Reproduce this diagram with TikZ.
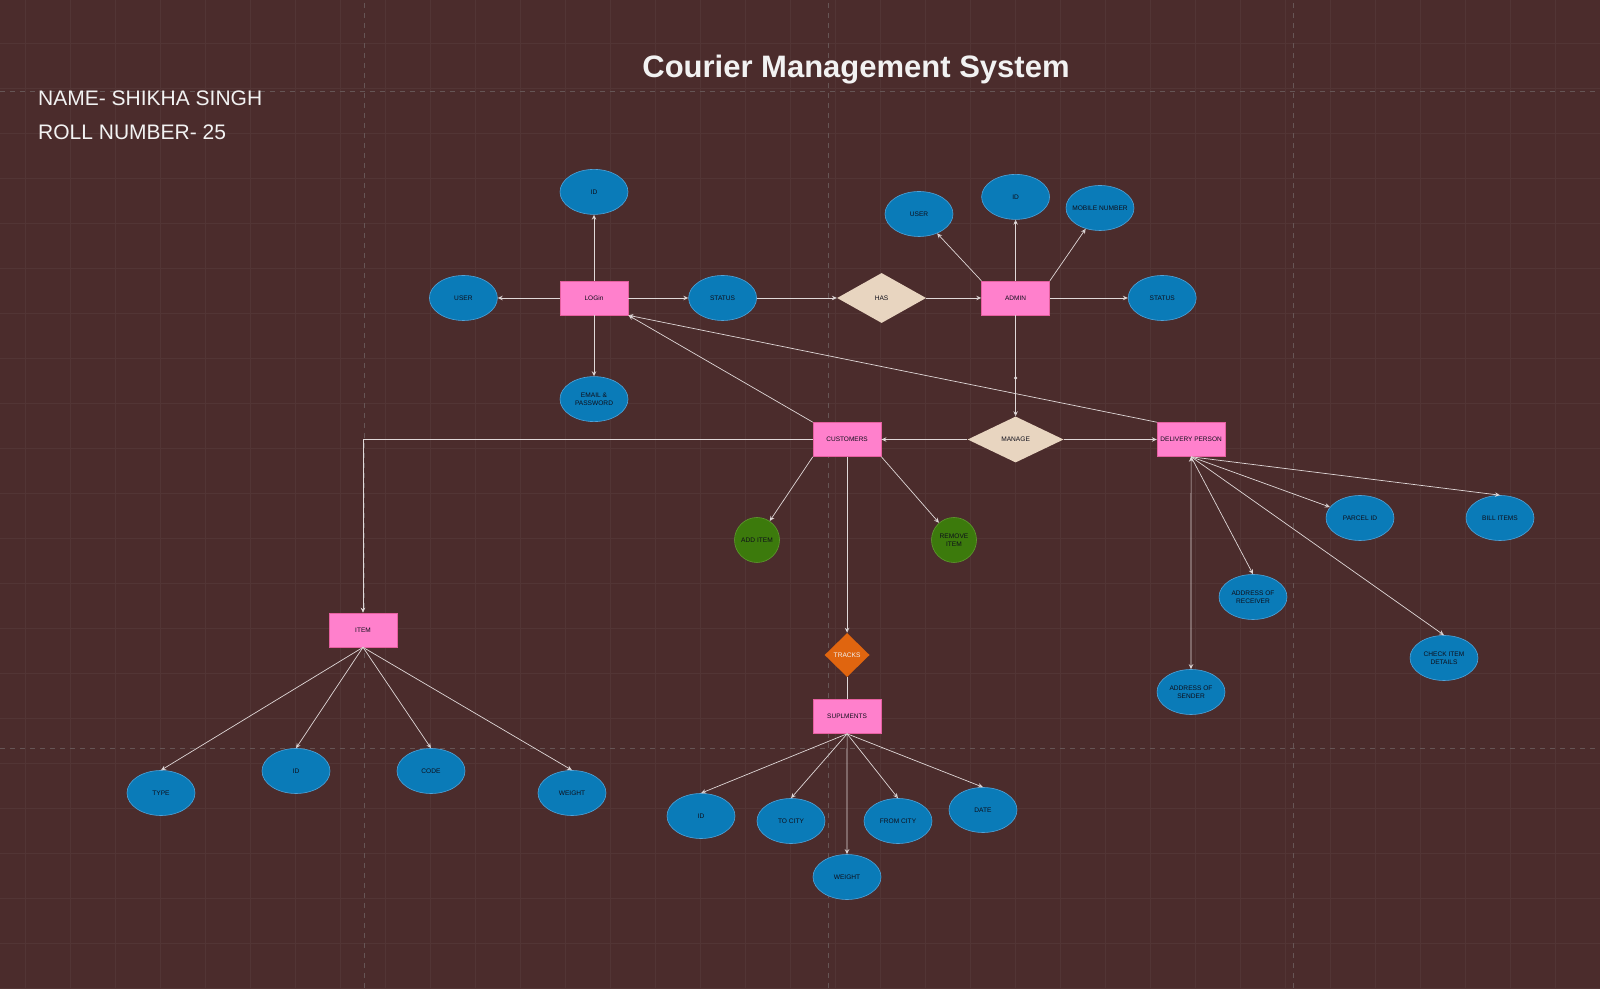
\documentclass[tikz,border=0pt]{standalone}
\usepackage{fontspec}
\setmainfont{Liberation Sans}
\usetikzlibrary{positioning,shapes.geometric,arrows.meta}
\definecolor{bgc}{HTML}{4B2C2C}
\definecolor{gridc}{HTML}{523535}
\definecolor{majc}{HTML}{665555}
\definecolor{attrfill}{HTML}{0A7BB8}
\definecolor{attrline}{HTML}{4FA3D9}
\definecolor{entfill}{HTML}{FF80CC}
\definecolor{entline}{HTML}{E4609F}
\definecolor{relfill}{HTML}{E8D5C0}
\definecolor{trackfill}{HTML}{E0650F}
\definecolor{actfill}{HTML}{3C7A0C}
\definecolor{actline}{HTML}{5E9A2E}
\definecolor{linkc}{HTML}{E0D8D8}
\definecolor{inkc}{HTML}{0E0E1A}
\definecolor{titlec}{HTML}{F2F2F2}

\begin{document}
\begin{tikzpicture}[x=1pt,y=1pt,
        attr/.style={ellipse,draw=attrline,fill=attrfill,line width=0.6pt,minimum width=68pt,minimum height=45pt,inner xsep=-8pt,inner ysep=0pt,align=center,font=\fontsize{6.6}{7.6}\selectfont,text=inkc},
        entity/.style={rectangle,draw=entline,fill=entfill,line width=0.6pt,minimum width=68pt,minimum height=34pt,inner sep=1pt,font=\fontsize{6.5}{7.5}\selectfont,text=inkc},
        rel/.style={diamond,fill=relfill,inner sep=0pt,font=\fontsize{6.6}{7.6}\selectfont,text=inkc},
        act/.style={circle,draw=actline,fill=actfill,line width=0.6pt,minimum size=45pt,inner sep=0pt,align=center,font=\fontsize{6.6}{7.6}\selectfont,text=inkc},
        link/.style={draw=linkc,line width=0.7pt,-{Stealth[length=5pt,width=4.5pt]}},
        waypt/.style={circle,fill=linkc,inner sep=0pt,minimum size=3.5pt}]
        \fill[bgc] (0,0) rectangle (1600,988);
        \useasboundingbox (0,0) rectangle (1600,988);
        \foreach \x in {25,70,...,1600} \draw[gridc,line width=0.6pt] (\x,0) -- (\x,988);
        \foreach \y in {0,45,...,945} \draw[gridc,line width=0.6pt] (0,\y) -- (1600,\y);
        \foreach \x in {364,828,1293} \draw[majc,line width=0.9pt,dash pattern=on 5pt off 5pt] (\x,0) -- (\x,988);
        \foreach \y in {897,240} \draw[majc,line width=0.9pt,dash pattern=on 5pt off 5pt] (0,\y) -- (1600,\y);

        \node[font=\bfseries\fontsize{31}{36}\selectfont,text=titlec] (title) at (856,918) {Courier Management System};
        \node[anchor=west,inner sep=0pt,font=\fontsize{21}{25}\selectfont,text=titlec] (name) at (38,890) {NAME- SHIKHA SINGH};
        \node[anchor=west,inner sep=0pt,font=\fontsize{21}{25}\selectfont,text=titlec] (roll) at (38,856) {ROLL NUMBER- 25};

        \node[entity] (login) at (594,690) {LOGin};
        \node[attr] (loginid) [above=66pt of login] {ID};
        \node[attr] (loginuser) [left=62pt of login] {USER};
        \node[attr] (loginstatus) [right=60pt of login] {STATUS};
        \node[attr] (email) [below=61pt of login] {EMAIL \&\\PASSWORD};
        \node[rel,minimum width=89pt,minimum height=50pt] (has) [right=80pt of loginstatus] {HAS};
        \node[entity] (admin) [right=55pt of has] {ADMIN};
        \node[attr] (adminid) [above=61pt of admin] {ID};
        \node[attr] (adminuser) at (919,774) {USER};
        \node[attr] (mobile) at (1100,780) {MOBILE NUMBER};
        \node[attr] (adminstatus) [right=78pt of admin] {STATUS};
        \node[rel,minimum width=96pt,minimum height=46pt] (manage) [below=101pt of admin] {MANAGE};
        \node[entity] (cust) [left=86pt of manage] {CUSTOMERS};
        \node[entity] (deliv) [right=93pt of manage] {DELIVERY PERSON};
        \node[act] (additem) at (757,448) {ADD ITEM};
        \node[act] (remove) at (954,448) {REMOVE\\ITEM};

        \node[entity] (item) at (363,358) {ITEM};
        \node[attr] (type) at (161,195) {TYPE};
        \node[attr] (itemid) at (296,217) {ID};
        \node[attr] (code) at (431,217) {CODE};
        \node[attr] (itemweight) at (572,195) {WEIGHT};

        \node[rel,fill=trackfill,text=titlec,minimum width=45pt,minimum height=44pt] (tracks) [below=176pt of cust] {TRACKS};
        \node[entity] (supl) [below=22pt of tracks] {SUPLMENTS};
        \node[attr] (suplid) at (701,172) {ID};
        \node[attr] (tocity) at (791,167) {TO CITY};
        \node[attr] (fromcity) at (898,167) {FROM CITY};
        \node[attr] (date) at (983,178) {DATE};
        \node[attr] (suplweight) at (847,111) {WEIGHT};

        \node[attr] (parcel) at (1360,470) {PARCEL ID};
        \node[attr] (bill) at (1500,470) {BILL ITEMS};
        \node[attr] (addrrec) at (1253,391) {ADDRESS OF\\RECEIVER};
        \node[attr] (check) at (1444,330) {CHECK ITEM\\DETAILS};
        \node[attr] (addrsend) at (1191,296) {ADDRESS OF\\SENDER};

        \path[link]
        (login) edge (loginid)
        (login) edge (loginuser)
        (login) edge (loginstatus)
        (login) edge (email)
        (loginstatus) edge (has)
        (has) edge (admin)
        (admin.north west) edge (adminuser)
        (admin) edge (adminid)
        (admin.north east) edge (mobile)
        (admin) edge (adminstatus)
        (admin) edge node[waypt,pos=0.62] {} (manage)
        (manage) edge (cust)
        (manage) edge (deliv)
        (cust.north west) edge (login.south east)
        (deliv.north west) edge (login.south east)
        (cust.south west) edge (additem)
        (cust.south east) edge (remove)
        (cust) edge (tracks)
        (item.south) edge (type.north)
        (item.south) edge (itemid.north)
        (item.south) edge (code.north)
        (item.south) edge (itemweight.north)
        (supl.south) edge (suplid.north)
        (supl.south) edge (tocity.north)
        (supl.south) edge (fromcity.north)
        (supl.south) edge (date.north)
        (supl.south) edge (suplweight.north)
        (deliv.south) edge (parcel)
        (deliv.south) edge (bill.north)
        (deliv.south) edge (addrrec.north)
        (deliv.south) edge (check.north)
        (deliv.south) edge (addrsend.north)
        ;
        \draw[link] (cust) -| (item);
        \draw[link,-] (tracks) -- (supl);
\end{tikzpicture}
\end{document}
